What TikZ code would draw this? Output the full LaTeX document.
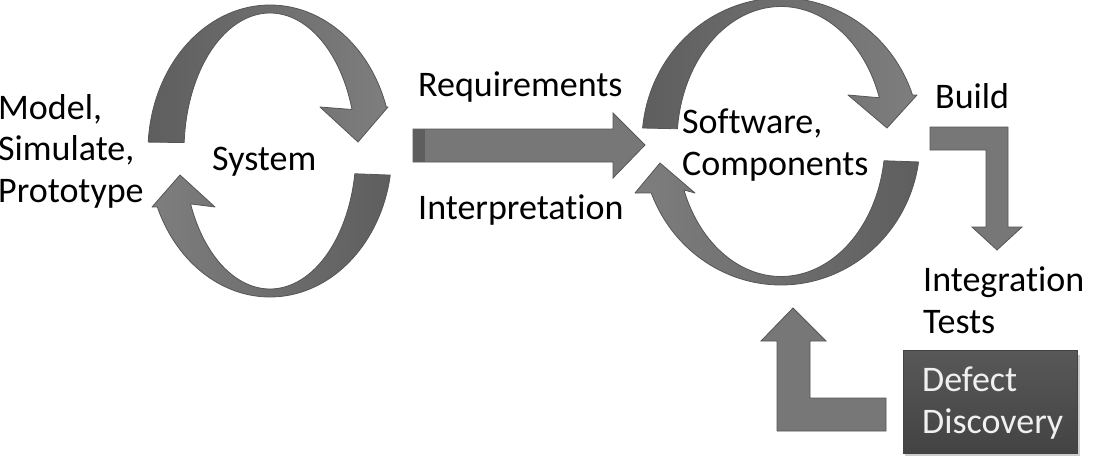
\documentclass[tikz,border=0pt]{standalone}
\usepackage{fontspec}
\setmainfont{Carlito}[Ligatures={NoCommon}]
\begin{document}
\begin{tikzpicture}[x=1pt,y=-1pt,
  arc/.style={draw=arcline,line width=0.8pt,line join=round},
  flat/.style={draw=arcline,line width=0.8pt,fill=arcface,line join=miter},
  lbl/.style={anchor=base west,inner sep=0pt,align=left,font=\fontsize{36}{41.5}\selectfont},
]
\definecolor{arcline}{HTML}{555555}
\definecolor{arcface}{HTML}{777777}
\definecolor{arcdark}{HTML}{5E5E5E}
\definecolor{arclight}{HTML}{7E7E7E}
\definecolor{boxtop}{HTML}{585858}
\definecolor{boxbot}{HTML}{434343}
\useasboundingbox (0,0) rectangle (1093,471);

% ---- left circle (System) ----
\path[arc,left color=arcdark,right color=arclight]
  plot[domain=183.5:342.5,samples=80] ({270+122*cos(\x)},{151+146*sin(\x)})
  -- (388,107) -- (358,142) -- (320,107)
  -- plot[domain=342.5:183.5,samples=80] ({270+86*cos(\x)},{151+138*sin(\x)}) -- cycle;
\path[arc,left color=arclight,right color=arcdark]
  plot[domain=9.5:157.45,samples=80] ({270+122*cos(\x)},{151+146*sin(\x)})
  -- (152,207) -- (180,175) -- (215,207)
  -- plot[domain=157.45:9.5,samples=80] ({270+86*cos(\x)},{151+138*sin(\x)}) -- cycle;

% ---- right circle (Software, Components) ----
\path[arc,left color=arcdark,right color=arclight]
  plot[domain=185.4:341.1,samples=80] ({781+139*cos(\x)},{141.5+143.5*sin(\x)})
  -- (917,95) -- (887,128) -- (848,95)
  -- plot[domain=341.1:185.4,samples=80] ({781+104*cos(\x)},{141.5+135*sin(\x)}) -- cycle;
\path[arc,left color=arclight,right color=arcdark]
  plot[domain=8.2:158.97,samples=80] ({781+139*cos(\x)},{141.5+143.5*sin(\x)})
  -- (635,193) -- (660,163) -- (695,193)
  -- plot[domain=158.97:8.2,samples=80] ({781+104*cos(\x)},{141.5+135*sin(\x)}) -- cycle;

% ---- Requirements arrow ----
\path[flat] (413,129) -- (613,129) -- (613,113) -- (645,145) -- (613,178)
  -- (613,162) -- (413,162) -- cycle;
\fill[arcdark] (413.4,129.4) rectangle (425,161.6);

% ---- Build bent arrow ----
\path[flat] (930,127) -- (1008,127) -- (1008,227) -- (1022,227) -- (997,250)
  -- (972,227) -- (986,227) -- (986,150) -- (930,150) -- cycle;

% ---- Defect bent arrow ----
\path[flat] (793,308) -- (826,341) -- (810,341) -- (810,398) -- (886,398)
  -- (886,431) -- (777,431) -- (777,341) -- (761,341) -- cycle;

% ---- Defect Discovery box ----
\fill[black!20] (905,355) rectangle (1080,456);
\node[draw=boxbot,line width=0.6pt,top color=boxtop,bottom color=boxbot,
  minimum width=174pt,minimum height=103pt,inner sep=0pt,anchor=north west]
  (box) at (903,350) {};
\node[lbl,text=white!94!black] (defect) at (922,433) {Defect\\Discovery};

% ---- labels (anchor = baseline of last line) ----
\node[lbl] (model) at (-2,202) {Model,\\Simulate,\\Prototype};
\node[lbl] (system) at (212,170) {System};
\node[lbl] (req) at (418,96) {Requirements};
\node[lbl] (interp) at (418,219) {Interpretation};
\node[lbl] (sw) at (682,175) {Software,\\Components};
\node[lbl] (build) at (935,108) {Build};
\node[lbl] (integ) at (923,333) {Integration\\Tests};
\end{tikzpicture}
\end{document}
